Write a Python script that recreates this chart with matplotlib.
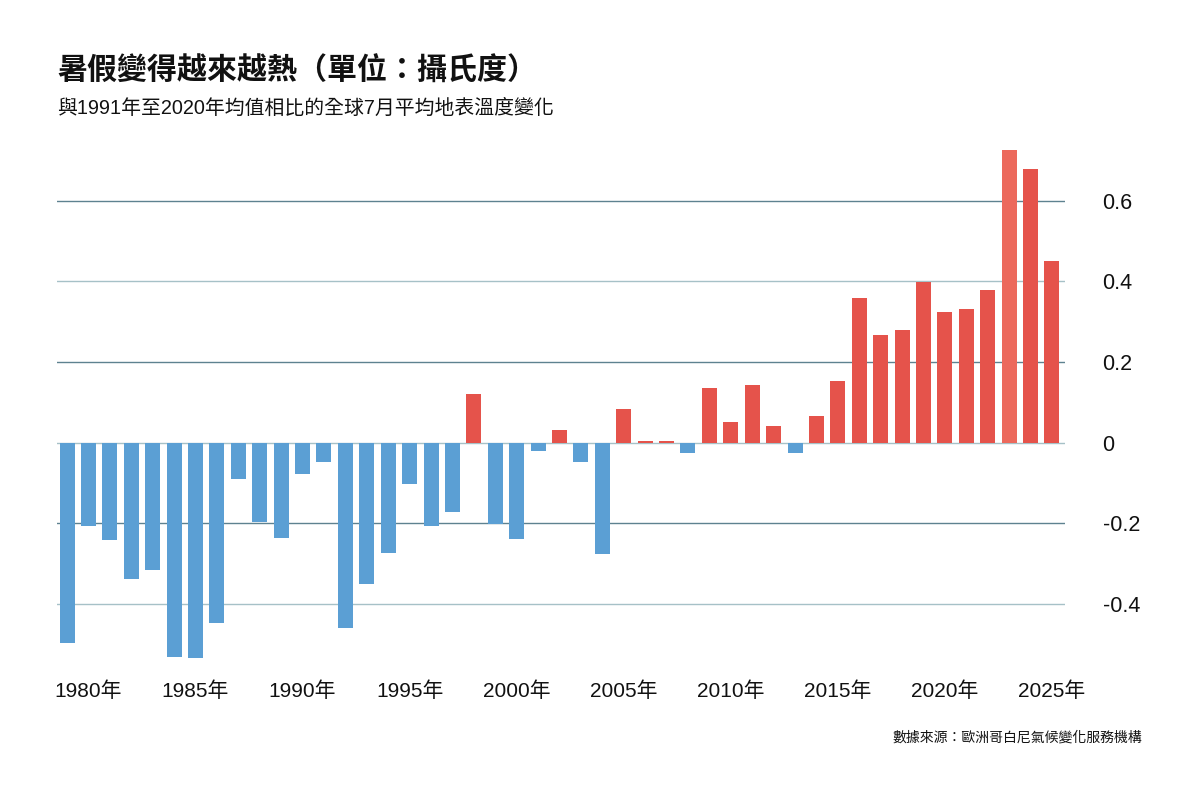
import matplotlib
matplotlib.use("Agg")
import matplotlib.pyplot as plt

plt.rcParams['font.family'] = ['Liberation Sans', 'Noto Sans CJK TC', 'DejaVu Sans']

# 7月全球平均地表溫度距平（相對1991-2020年）
years = list(range(1979, 2026))
anomaly = [
    -0.497, -0.208, -0.241, -0.338, -0.316, -0.531, -0.535, -0.449, -0.090, -0.198,
    -0.238, -0.079, -0.048, -0.461, -0.350, -0.275, -0.104, -0.207, -0.173, 0.120,
    -0.203, -0.239, -0.022, 0.032, -0.048, -0.277, 0.084, 0.003, 0.005, -0.025,
    0.136, 0.051, 0.142, 0.040, -0.027, 0.066, 0.154, 0.360, 0.266, 0.279,
    0.398, 0.325, 0.331, 0.378, 0.725, 0.680, 0.450,
]
yticks = [-0.4, -0.2, 0, 0.2, 0.4, 0.6]
ytick_labels = ["-0.4", "-0.2", "0", "0.2", "0.4", "0.6"]
xticks = list(range(1980, 2030, 5))
xtick_labels = [f"{y}年" for y in xticks]

blue = "#5B9FD4"
red = "#E5534B"
red_light = "#EC695C"

colors = []
for y, v in zip(years, anomaly):
    if v < 0:
        colors.append(blue)
    elif y == 2023:
        colors.append(red_light)
    else:
        colors.append(red)

fig = plt.figure(figsize=(12, 8), dpi=100)
ax = fig.add_axes([57 / 1200, 1 - 665 / 800, (1065 - 57) / 1200, 525 / 800])

# grid lines (alternating shades as in the original)
for t in yticks:
    c = "#5E8290" if round(abs(t) * 10) % 4 == 2 else "#A6C1C7"
    ax.axhline(t, color=c, lw=1.0, zorder=1)

ax.bar(years, anomaly, width=0.7, color=colors, zorder=2)

ax.set_xlim(1978.53, 2025.61)
ax.set_ylim(-0.552, 0.751)

for s in ax.spines.values():
    s.set_visible(False)

ax.yaxis.tick_right()
ax.set_yticks(yticks)
ax.set_yticklabels(ytick_labels, fontsize=15.5, color="#111111")
ax.tick_params(axis="y", length=0, pad=27)

ax.set_xticks(xticks)
ax.set_xticklabels(xtick_labels, fontsize=15, color="#111111")
ax.tick_params(axis="x", length=0, pad=12)

fig.text(57 / 1200, 1 - 71 / 800, "暑假變得越來越熱（單位：攝氏度）",
         fontsize=21.6, fontweight="bold", va="center", ha="left", color="#111111")
fig.text(57 / 1200, 1 - 108 / 800, "與1991年至2020年均值相比的全球7月平均地表溫度變化",
         fontsize=14.3, va="center", ha="left", color="#111111")
fig.text(1142 / 1200, 1 - 738 / 800, "數據來源：歐洲哥白尼氣候變化服務機構",
         fontsize=10, va="center", ha="right", color="#111111")

fig.savefig("out.png", dpi=100, facecolor="white")
